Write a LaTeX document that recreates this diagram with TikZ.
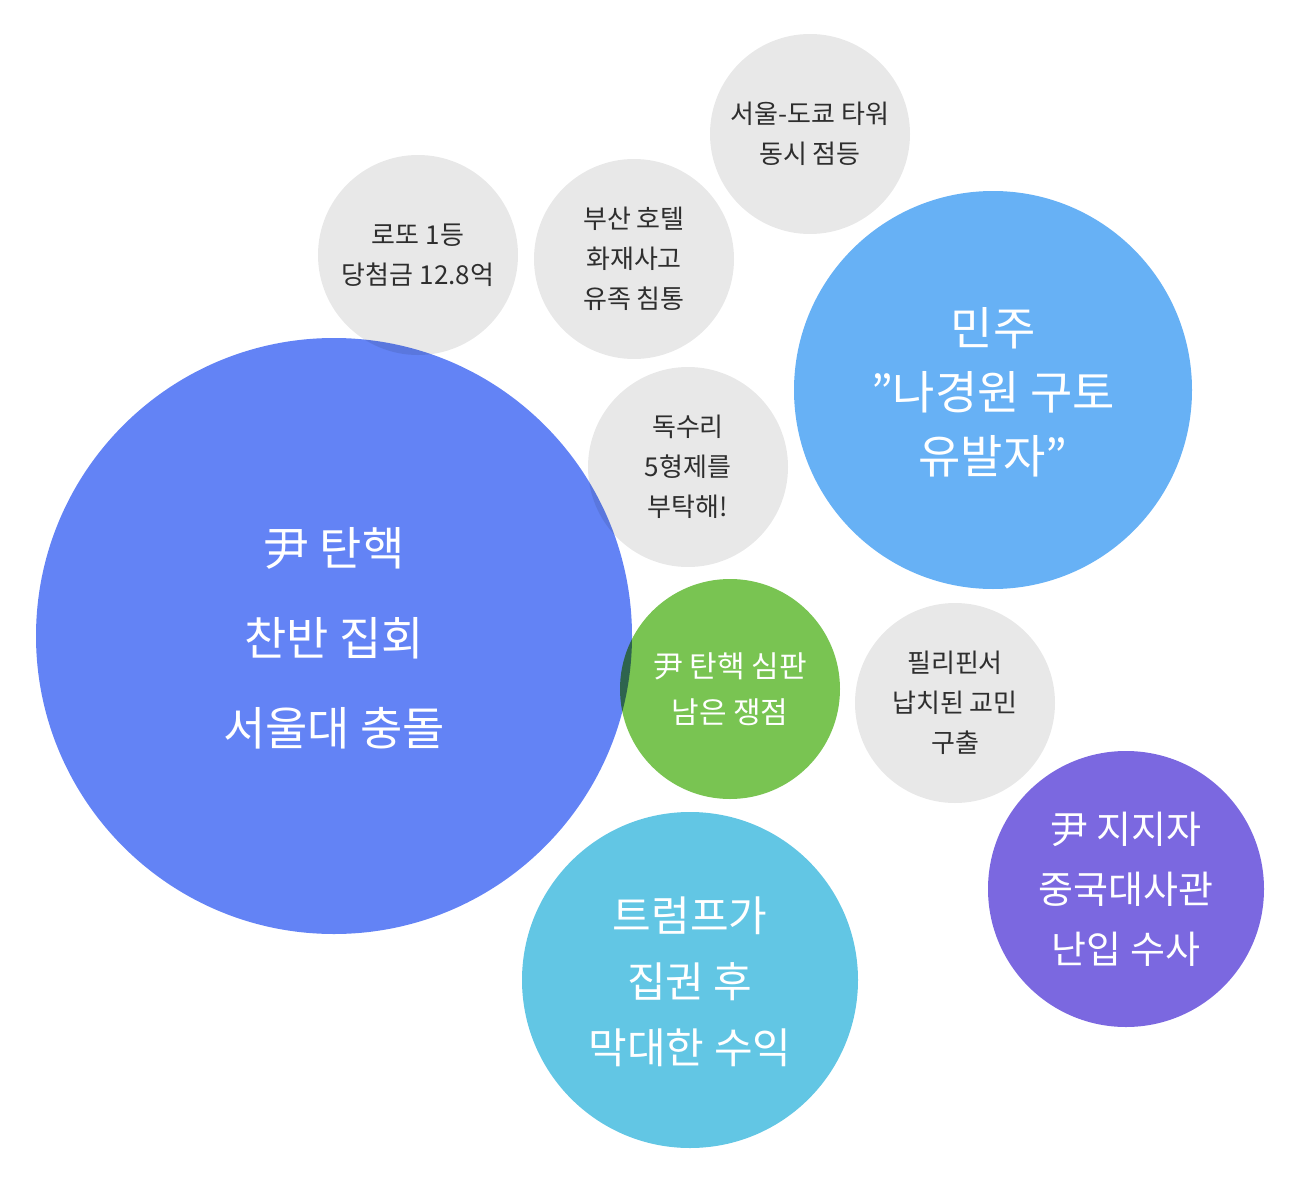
\documentclass[tikz,border=0pt]{standalone}
\usepackage{fontspec}
\setmainfont{Noto Sans CJK KR}
\definecolor{cblue}{HTML}{6383F5}
\definecolor{csky}{HTML}{67B1F5}
\definecolor{cgreen}{HTML}{79C452}
\definecolor{ccyan}{HTML}{62C6E4}
\definecolor{cpurp}{HTML}{7B68E0}
\definecolor{cgray}{HTML}{E8E8E8}
\definecolor{ctext}{HTML}{333333}
\tikzset{
 bub/.style={circle,minimum size=#1,inner sep=0pt,align=center,blend mode=multiply},
 gb/.style={bub=200pt,fill=cgray,text=ctext,font=\fontsize{26}{40}\selectfont},
 wt/.style={text=white,align=center}
}
\begin{document}
\begin{tikzpicture}[x=1pt,y=-1pt]
\useasboundingbox (0,0) rectangle (1312,1204);
\node[bub=596pt,fill=cblue] (a) at (334,636) {};
\node[bub=398pt,fill=csky] (b) at (993,390) {};
\node[bub=336pt,fill=ccyan] (c) at (690,980) {};
\node[bub=276pt,fill=cpurp] (d) at (1126,889) {};
\node[gb] (g1) at (418,255) {로또 1등\\당첨금 12.8억};
\node[gb] (g2) at (634,259) {부산 호텔\\화재사고\\유족 침통};
\node[gb] (g3) at (810,134) {서울-도쿄 타워\\동시 점등};
\node[gb] (g4) at (688,467) {독수리\\5형제를\\부탁해!};
\node[gb] (g5) at (955,703) {필리핀서\\납치된 교민\\구출};
\node[bub=220pt,fill=cgreen] (e) at (730,689) {};
\node[wt,font=\fontsize{46}{90}\selectfont] (ta) at (334,638) {尹 탄핵\\찬반 집회\\서울대 충돌};
\node[wt,font=\fontsize{46}{64}\selectfont] (tb) at (993,392) {민주\\"나경원 구토\\유발자"};
\node[wt,font=\fontsize{42}{66}\selectfont] (tc) at (690,982) {트럼프가\\집권 후\\막대한 수익};
\node[wt,font=\fontsize{38}{60}\selectfont] (td) at (1126,889) {尹 지지자\\중국대사관\\난입 수사};
\node[wt,font=\fontsize{30}{46}\selectfont] (te) at (730,689) {尹 탄핵 심판\\남은 쟁점};
\end{tikzpicture}
\end{document}
